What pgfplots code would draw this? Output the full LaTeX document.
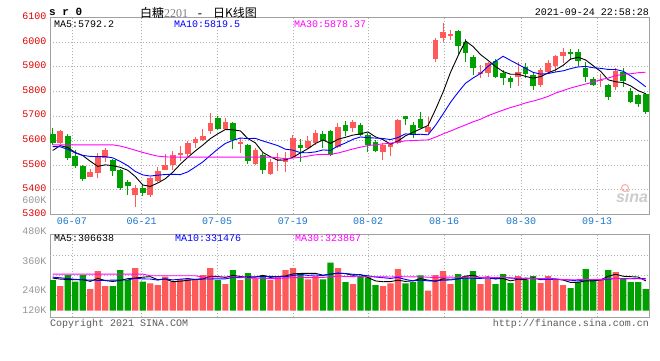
\documentclass[border=0pt]{standalone}
\usepackage{pgfplots}
\pgfplotsset{compat=1.18}
\usepackage{pgfplotstable}
\usepackage{fontspec}
\setmainfont{Liberation Mono}
\newfontfamily\cjk{Noto Sans CJK SC}
\newfontfamily\serif{Liberation Serif}
\newfontfamily\sans{Liberation Sans}
\definecolor{candred}{RGB}{255,90,90}
\definecolor{candgreen}{RGB}{0,160,0}
\definecolor{pricered}{RGB}{225,0,0}
\definecolor{datecol}{RGB}{26,117,200}
\definecolor{bordergray}{RGB}{160,160,160}
\definecolor{gridgray}{RGB}{175,175,175}
\definecolor{volgray}{RGB}{150,150,150}
\definecolor{textgray}{RGB}{90,90,90}
\definecolor{ma10blue}{RGB}{0,0,255}
\definecolor{ma30mag}{RGB}{255,0,255}

\pgfplotstableread{
k o h l c v
2 5592 5645 5588 5640 253.2
6 5454 5485 5452 5474 222.4
7 5467 5551 5447 5535 407.2
8 5531 5569 5515 5562 253.2
12 5377 5420 5332 5408 438.0
14 5379 5452 5370 5449 280.6
15 5434 5491 5430 5478 263.5
16 5482 5545 5480 5501 349.0
17 5499 5558 5481 5542 297.7
18 5540 5580 5518 5551 325.1
19 5547 5598 5530 5589 325.1
20 5592 5614 5569 5608 314.8
21 5602 5648 5598 5620 366.2
22 5640 5714 5626 5673 438.0
24 5649 5691 5645 5676 273.8
26 5588 5612 5551 5596 314.8
28 5503 5572 5500 5560 331.9
30 5466 5524 5462 5515 314.8
31 5520 5549 5477 5524 355.9
32 5515 5553 5474 5528 417.5
33 5535 5623 5531 5612 438.0
35 5569 5619 5565 5600 321.7
36 5592 5644 5583 5630 355.9
39 5576 5671 5570 5657 438.0
41 5653 5684 5637 5675 273.8
45 5554 5592 5523 5583 253.2
46 5576 5592 5539 5585 280.6
47 5592 5688 5588 5684 427.8
51 5634 5695 5630 5654 205.3
52 5931 6019 5921 6009 366.2
53 6019 6077 6003 6042 407.2
54 6027 6050 6009 6033 273.8
58 5873 5908 5854 5879 273.8
59 5877 5921 5860 5915 325.1
63 5860 5921 5824 5881 355.9
66 5827 5894 5820 5888 284.0
67 5878 5928 5872 5915 355.9
68 5905 5949 5881 5944 314.8
69 5946 5978 5917 5961 263.5
74 5842 5870 5820 5846 314.8
76 5820 5894 5806 5885 397.0
}\redtab

\pgfplotstableread{
k o h l c v
1 5627 5650 5583 5589 314.8
3 5619 5625 5522 5531 366.2
4 5538 5560 5490 5495 297.7
5 5497 5499 5437 5442 366.2
9 5522 5526 5458 5478 253.2
10 5482 5485 5401 5408 417.5
11 5430 5438 5379 5415 314.8
13 5408 5420 5373 5389 297.7
23 5692 5700 5644 5649 314.8
25 5672 5675 5564 5603 417.5
27 5583 5586 5505 5519 386.7
29 5542 5548 5466 5482 362.7
34 5583 5607 5515 5572 386.7
37 5627 5640 5572 5599 321.7
38 5640 5645 5538 5542 492.8
40 5664 5680 5617 5640 294.3
42 5664 5673 5618 5623 355.9
43 5621 5630 5553 5583 342.2
44 5596 5603 5552 5556 263.5
48 5700 5702 5664 5690 280.6
49 5664 5675 5610 5627 294.3
50 5688 5715 5650 5653 362.7
55 6046 6050 5951 5986 376.4
56 6000 6012 5921 5958 355.9
57 5942 5949 5867 5894 407.2
60 5924 5931 5855 5860 273.8
61 5877 5888 5827 5856 376.4
62 5854 5864 5816 5840 284.0
64 5898 5915 5854 5870 314.8
65 5867 5874 5806 5824 355.9
70 5962 5972 5928 5951 232.7
71 5962 5973 5904 5925 294.3
72 5894 5921 5840 5860 427.8
73 5851 5860 5822 5827 314.8
75 5827 5830 5766 5779 417.5
77 5881 5894 5820 5844 325.1
78 5802 5813 5752 5759 294.3
79 5786 5790 5738 5749 294.3
80 5790 5793 5709 5718 222.4
}\greentab

\pgfplotstableread{
k ma5 ma10 ma30 vma5 vma10 vma30
1 5560 5576 5583 335 345 376
2 5580 5575 5583 325 338 376
3 5572 5565 5583 320 330 376
4 5552 5550 5583 318 322 376
5 5539.4 5540 5583 319.6 318 376
6 5516.4 5536 5583 301.1 314 376
7 5495.4 5535 5583 331.9 312 376
8 5501.6 5535 5583 309.3 312 376
9 5498.2 5530 5583 300.4 314 376
10 5491.4 5515.4 5578 310.7 315.2 376
11 5479.6 5498 5570 329.2 315.2 376
12 5454.2 5474.8 5561 335.3 333.6 376
13 5419.6 5460.6 5552 344.2 326.8 376
14 5413.8 5456 5544 349.7 325.1 359
15 5427.8 5459.6 5537 318.9 314.8 359
16 5445 5462.3 5534 325.8 327.5 359
17 5471.8 5463 5533 297.7 316.5 359
18 5504.2 5461.9 5533 303.2 323.7 359
19 5532.2 5473 5533 312.1 330.9 359
20 5558.2 5493 5533 322.3 320.6 359
21 5582 5513.5 5533 325.8 325.8 346
22 5608.2 5540 5533 353.8 325.8 346
23 5627.8 5566 5533 351.8 327.5 346
24 5645.2 5588.7 5533 341.5 326.8 346
25 5644.2 5601.2 5533 362.1 342.2 346
26 5639.4 5610.7 5533 351.8 338.8 346
27 5608.6 5608.4 5533 341.5 347.7 335
28 5590.8 5609.3 5533 344.9 348.4 335
29 5552 5598.6 5533 362.7 352.1 335
30 5534.4 5589.3 5532.6 342.2 352.1 329.3
31 5520 5579.7 5530.4 350.4 351.1 330.7
32 5521.8 5565.2 5526.7 356.6 349 336.2
33 5532.2 5561.5 5529.4 377.8 361.4 338.5
34 5550.2 5551.1 5531.9 382.6 372.7 341.5
35 5567.2 5550.8 5537.2 384 363.1 340
36 5588.4 5554.2 5542.4 384 367.2 344.5
37 5602.6 5562.2 5544.5 364.8 360.7 341.6
38 5588.6 5560.4 5543.9 375.8 376.8 349.6
39 5605.6 5577.9 5549.8 386 384.3 355.8
40 5613.6 5590.4 5557.6 380.5 382.3 351.7
41 5622.6 5605.5 5566.2 364.1 374 350.3
42 5627.4 5615 5573.4 371 367.9 347.6
43 5635.6 5612.1 5579.9 340.8 358.3 349
44 5615.4 5610.5 5583.4 305.9 346 348.5
45 5604 5608.8 5586.9 297.7 339.1 348.1
46 5586 5604.3 5589.7 299.1 331.6 345.9
47 5598.2 5612.8 5594.5 313.5 342.2 350.2
48 5619.6 5627.6 5599.1 301.1 321 348.7
49 5633.8 5624.6 5600.4 307.3 306.6 347.7
50 5647.8 5625.9 5601.9 329.2 313.5 349.3
51 5661.6 5623.8 5603 314.1 306.6 343.9
52 5726.6 5662.4 5614.2 301.8 307.6 341.5
53 5797 5708.3 5627.3 327.1 314.1 344.6
54 5878.2 5756 5639.2 323 315.2 344.6
55 5944.8 5796.3 5652 325.8 327.5 343.2
56 6005.6 5833.6 5664 355.9 335 344.6
57 5982.6 5854.6 5676.5 364.1 333 345.3
58 5950 5873.5 5687.2 337.4 332.3 343.3
59 5926.4 5902.3 5701.6 347.7 335.4 342.1
60 5901.2 5923 5713.1 327.2 326.5 340.7
61 5880.8 5943.2 5724.2 331.3 343.6 341.4
62 5870 5926.3 5734.6 306.6 335.4 337
63 5870.4 5910.2 5743.5 323 330.2 334.2
64 5861.4 5893.9 5753.5 321 334.3 331.8
65 5854.2 5877.7 5760.9 337.4 332.3 333
66 5860.6 5870.7 5769.5 318.9 325.1 330.6
67 5875.6 5872.8 5780.1 333.3 320 331.7
68 5888.2 5879.3 5793.5 325.1 324.1 325.8
69 5906.4 5883.9 5803.6 314.8 317.9 320
70 5931.8 5893 5814 290.2 313.8 317.9
71 5939.2 5899.9 5822.3 292.2 305.6 318.6
72 5928.2 5901.9 5830.2 306.6 320 321
73 5904.8 5896.5 5838.3 306.6 315.9 320.1
74 5881.8 5894.1 5848 316.9 315.9 321.8
75 5847.4 5889.6 5854.5 353.8 322 327.3
76 5839.4 5889.3 5864.5 374.4 333.3 331.1
77 5836.2 5882.2 5869.9 353.8 330.2 327.7
78 5822.6 5863.7 5872.2 349.7 328.2 328.2
79 5803.2 5842.5 5876.2 345.6 331.3 328.2
80 5791 5819.2 5878.4 306.6 330.2 323.5
}\matab

\pgfplotsset{
  kbase/.style={
    scale only axis, width=599pt, xmin=0.64, xmax=80.44,
    axis line style={draw=bordergray, line width=1pt},
    xtick={3.571,12.857,22.89,33.01,43.01,53.14,63.40,73.52},
    major tick length=0pt, minor tick num=0,
    xmajorgrids,
    grid style={draw=gridgray, dash pattern=on 1pt off 2pt, line width=0.8pt},
    tick label style={font=\fontsize{10}{12}\selectfont},
    /pgf/number format/assume math mode=true,
    /pgf/number format/1000 sep={},
  },
  wick/.style={draw=none, mark=none, forget plot,
    error bars/.cd, y dir=plus, y explicit, error mark=none,
    error bar style={line width=1pt, draw=#1, solid}},
  body/.style={draw=none, mark=none, forget plot,
    error bars/.cd, y dir=plus, y explicit, error mark=none,
    error bar style={line width=5.6pt, draw=#1, solid}},
}

\begin{document}
\begin{tikzpicture}[x=1pt,y=1pt]
\path[use as bounding box, fill=white] (0,0) rectangle (660,360);

% ---------- price panel ----------
\begin{axis}[kbase,
  at={(50pt,145.6pt)}, anchor=south west, height=196.7pt,
  ymin=5300, ymax=6100, ytick={5300,5400,...,6100},
  ymajorgrids,
  xticklabels={06-07,06-21,07-05,07-19,08-02,08-16,08-30,09-13},
  xticklabel style={text=datecol},
  yticklabel style={text=pricered, yshift=1.5pt},
]
\addplot[wick=candred] table[x=k, y=l, y error plus expr=\thisrow{h}-\thisrow{l}] {\redtab};
\addplot[wick=candgreen] table[x=k, y=l, y error plus expr=\thisrow{h}-\thisrow{l}] {\greentab};
\addplot[body=candred] table[x=k, y=o, y error plus expr=\thisrow{c}-\thisrow{o}] {\redtab};
\addplot[body=candgreen] table[x=k, y=c, y error plus expr=\thisrow{o}-\thisrow{c}] {\greentab};
\addplot[black, line width=0.9pt, mark=none] table[x=k, y=ma5] {\matab};
\addplot[ma10blue, line width=0.9pt, mark=none] table[x=k, y=ma10] {\matab};
\addplot[ma30mag, line width=0.9pt, mark=none] table[x=k, y=ma30] {\matab};
\end{axis}

% ---------- volume panel ----------
\begin{axis}[kbase,
  at={(50pt,42.7pt)}, anchor=south west, height=83pt,
  ymin=-68, ymax=785,
  xticklabels={},
  ytick={7,213,510}, yticklabels={120K,240K,360K},
  yticklabel style={text=volgray},
  extra y ticks={161,367,572}, extra y tick labels={},
  extra y tick style={grid=major},
]
\addplot[ybar, bar width=6.2pt, bar shift=0pt, fill=candred, draw=none] table[x=k, y=v] {\redtab};
\addplot[ybar, bar width=6.2pt, bar shift=0pt, fill=candgreen, draw=none] table[x=k, y=v] {\greentab};
\addplot[black, line width=0.9pt, mark=none] table[x=k, y=vma5] {\matab};
\addplot[ma10blue, line width=0.9pt, mark=none] table[x=k, y=vma10] {\matab};
\addplot[ma30mag, line width=0.9pt, mark=none] table[x=k, y=vma30] {\matab};
\end{axis}

% ---------- texts ----------
\begin{scope}[every node/.style={inner sep=0pt, font=\fontsize{10}{12}\selectfont}]
\node[anchor=west, font=\bfseries\fontsize{11}{12}\selectfont] at (49,348) {s r 0};
\node[anchor=base west, font=\cjk\fontsize{12}{12}\selectfont] at (140,343) {白糖};
\node[anchor=base west, font=\serif\fontsize{12}{12}\selectfont, text=gray] at (164,343) {2201};
\node[anchor=base, font=\fontsize{12}{12}\selectfont] at (200,343) {-};
\node[anchor=base west, font=\cjk\fontsize{12}{12}\selectfont] at (213,343) {日K线图};
\node[anchor=east] at (649,348) {2021-09-24 22:58:28};

\node[anchor=west] at (54,336) {MA5:5792.2};
\node[anchor=west, text=ma10blue] at (174,336) {MA10:5819.5};
\node[anchor=west, text=ma30mag] at (294,336) {MA30:5878.37};

\node[anchor=west] at (54,121.7) {MA5:306638};
\node[anchor=west, text=ma10blue] at (175,121.7) {MA10:331476};
\node[anchor=west, text=ma30mag] at (295,121.7) {MA30:323867};

\node[anchor=east, text=volgray] at (46.5,129.3) {480K};
\node[anchor=east, text=volgray] at (46.5,160) {600K};

\node[anchor=west, text=textgray] at (50,36) {Copyright 2021 SINA.COM};
\node[anchor=east, text=textgray] at (649,36) {http://finance.sina.com.cn};

\draw[red!30, line width=1.2pt] (625,172) circle (3.5);
\node[anchor=center, font=\sans\bfseries\itshape\fontsize{16}{16}\selectfont, text=gray!40] at (632,163) {sina};
\end{scope}
\end{tikzpicture}
\end{document}
